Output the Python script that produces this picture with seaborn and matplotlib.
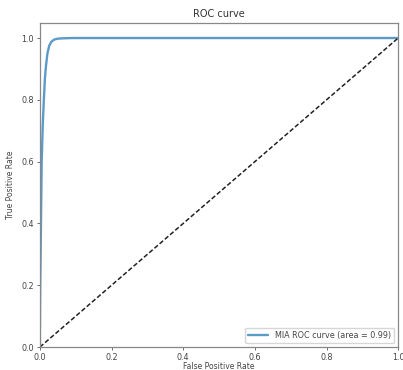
import matplotlib
matplotlib.use("Agg")
import matplotlib.pyplot as plt
import seaborn as sns
import pandas as pd

# ROC points
fpr = [0.0, 0.0, 0.001, 0.002, 0.003, 0.005, 0.008, 0.011, 0.014, 0.017,
       0.021, 0.026, 0.032, 0.04, 0.05, 0.065, 0.09, 0.15, 0.4, 0.7, 1.0]
tpr = [0.0, 0.05, 0.2, 0.3, 0.4, 0.6, 0.72, 0.8, 0.87, 0.91,
       0.95, 0.975, 0.988, 0.995, 0.998, 0.999, 1.0, 1.0, 1.0, 1.0, 1.0]
chance = [0.0, 1.0]
roc_auc = 0.99

sns.set_style("white")
plt.rcParams["font.family"] = ["DejaVu Sans"]

roc = pd.DataFrame({"fpr": fpr, "tpr": tpr})

fig = plt.figure(figsize=(4.03, 3.70), dpi=100)
ax = fig.add_axes([0.099, 0.062, 0.889, 0.877])

sns.lineplot(data=roc, x="fpr", y="tpr", estimator=None, sort=False,
             color="#5b9bc8", lw=1.7, label=f"MIA ROC curve (area = {roc_auc:.2f})", ax=ax)
ax.plot(chance, chance, "--", color="#222222", lw=1.1, dashes=(3, 1.5))

ax.set_xlim(0.0, 1.0)
ax.set_ylim(0.0, 1.05)
ax.set_xticks([0.0, 0.2, 0.4, 0.6, 0.8, 1.0])
ax.set_yticks([0.0, 0.2, 0.4, 0.6, 0.8, 1.0])
ax.tick_params(labelsize=5.8, length=2.5, width=0.6, color="#555555",
               labelcolor="#444444", pad=2, left=True, bottom=True)
for s in ax.spines.values():
    s.set_color("#888888")
    s.set_linewidth(0.9)

ax.set_title("ROC curve", fontsize=7, color="#333333", pad=4)
ax.set_xlabel("False Positive Rate", fontsize=5.5, color="#444444", labelpad=0)
ax.set_ylabel("True Positive Rate", fontsize=5.5, color="#444444", labelpad=4)
ax.legend(loc="lower right", fontsize=5.8, frameon=True, fancybox=True,
          edgecolor="#cccccc", handlelength=2.5, labelcolor="#444444")

fig.savefig("out.png", dpi=100)
